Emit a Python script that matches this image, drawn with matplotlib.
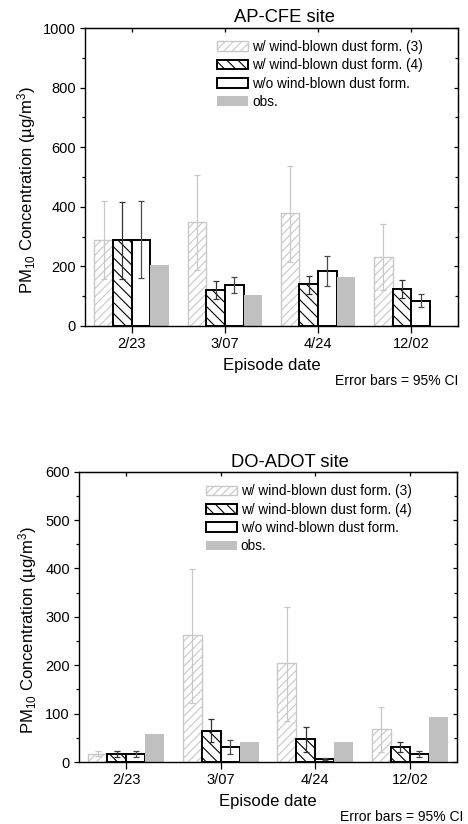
import numpy as np
import matplotlib
matplotlib.use('Agg')
import matplotlib.pyplot as plt

plt.rcParams['font.family'] = ['Liberation Sans', 'DejaVu Sans']
plt.rcParams['mathtext.fontset'] = 'custom'
plt.rcParams['mathtext.rm'] = 'Liberation Sans'
plt.rcParams['mathtext.it'] = 'Liberation Sans:italic'
plt.rcParams['hatch.linewidth'] = 0.8

# ngày của các đợt
dates = ['2/23', '3/07', '4/24', '12/02']
labels = ['w/ wind-blown dust form. (3)', 'w/ wind-blown dust form. (4)',
          'w/o wind-blown dust form.', 'obs.']

# AP-CFE site
ap_f3 = [289, 349, 379, 232]
ap_f3_lo = [159, 187, 216, 120]
ap_f3_hi = [418, 508, 536, 343]
ap_f4 = [289, 122, 140, 125]
ap_f4_lo = [159, 92, 108, 95]
ap_f4_hi = [416, 151, 169, 155]
ap_nod = [290, 139, 185, 85]
ap_nod_lo = [161, 112, 134, 64]
ap_nod_hi = [419, 166, 236, 107]
ap_obs = [204, 105, 163, np.nan]

# DO-ADOT site
do_f3 = [17, 262, 204, 68]
do_f3_lo = [12, 122, 85, 21]
do_f3_hi = [22, 399, 320, 114]
do_f4 = [17, 65, 48, 32]
do_f4_lo = [11, 41, 21, 21]
do_f4_hi = [22, 88, 72, 42]
do_nod = [17, 32, 6, 17]
do_nod_lo = [11, 16, 5, 10]
do_nod_hi = [22, 46, 8, 23]
do_obs = [57, 41, 41, 92]

fig = plt.figure(figsize=(4.68, 8.24), dpi=100)


def VeBieuDo(ax, f3, f3lo, f3hi, f4, f4lo, f4hi, nod, nodlo, nodhi, obs,
             ymax, major, minor, leg_xy):
    x = np.arange(1, len(dates) + 1)
    w = 0.2
    ax.bar(x - 0.3, f3, w, facecolor='white', edgecolor='#c8c8c8',
           hatch='////', linewidth=1.0, label=labels[0])
    ax.bar(x - 0.1, f4, w, facecolor='white', edgecolor='black',
           hatch='\\\\\\', linewidth=1.4, label=labels[1])
    ax.bar(x + 0.1, nod, w, facecolor='white', edgecolor='black',
           linewidth=1.4, label=labels[2])
    ax.bar(x + 0.3, obs, w, color='#c0c0c0', linewidth=0, label=labels[3])

    def err(v, lo, hi):
        v = np.array(v, float)
        return [v - np.array(lo), np.array(hi) - v]

    ax.errorbar(x - 0.3, f3, yerr=err(f3, f3lo, f3hi), fmt='none',
                ecolor='#c8c8c8', elinewidth=0.9, capsize=2.5, capthick=0.9)
    ax.errorbar(x - 0.1, f4, yerr=err(f4, f4lo, f4hi), fmt='none',
                ecolor='#333333', elinewidth=0.9, capsize=2.5, capthick=0.9)
    ax.errorbar(x + 0.1, nod, yerr=err(nod, nodlo, nodhi), fmt='none',
                ecolor='#4a4a4a', elinewidth=0.9, capsize=2.5, capthick=0.9)

    ax.set_xlim(0.5, 4.5)
    ax.set_ylim(0, ymax)
    ax.set_xticks(x)
    ax.set_xticklabels(dates, fontsize=10.5)
    ax.set_yticks(np.arange(0, ymax + 1, major))
    ax.set_yticks(np.arange(0, ymax + 1, minor), minor=True)
    ax.tick_params(axis='y', which='major', direction='out', length=3.5,
                   width=0.9, labelsize=10.5, pad=3)
    ax.tick_params(axis='y', which='minor', direction='out', length=2,
                   width=0.9)
    ax.tick_params(axis='x', direction='out', length=5, width=0.9, pad=3)
    for s in ax.spines.values():
        s.set_linewidth(1.0)

    # trục phụ bên phải và bên trên, vạch chia hướng vào trong
    ax2 = ax.secondary_yaxis('right')
    ax2.set_yticks(np.arange(0, ymax + 1, major))
    ax2.set_yticks(np.arange(0, ymax + 1, minor), minor=True)
    ax2.tick_params(which='major', direction='in', length=3, width=0.9,
                    labelright=False)
    ax2.tick_params(which='minor', direction='in', length=2, width=0.9)
    ax3 = ax.secondary_xaxis('top')
    ax3.set_xticks(x)
    ax3.tick_params(direction='in', length=3, width=0.9, labeltop=False)

    ax.set_xlabel('Episode date', fontsize=12, labelpad=5)
    ax.legend(loc='upper left', bbox_to_anchor=leg_xy, frameon=False,
              fontsize=9.8, borderpad=0, borderaxespad=0,
              handlelength=2.27, handleheight=0.72, handletextpad=0.3,
              labelspacing=0.32)


ax1 = fig.add_axes([85 / 468, 1 - 326 / 824, 373 / 468, 298 / 824])
VeBieuDo(ax1, ap_f3, ap_f3_lo, ap_f3_hi, ap_f4, ap_f4_lo, ap_f4_hi,
         ap_nod, ap_nod_lo, ap_nod_hi, ap_obs, 1000, 200, 100, (0.354, 0.96))

ax2 = fig.add_axes([79 / 468, 1 - 762 / 824, 378 / 468, 290.3 / 824])
VeBieuDo(ax2, do_f3, do_f3_lo, do_f3_hi, do_f4, do_f4_lo, do_f4_hi,
         do_nod, do_nod_lo, do_nod_hi, do_obs, 600, 100, 50, (0.335, 0.957))

ylab = 'PM$_{10}$ Concentration (\u00b5g/m$^{3}$)'
fig.text(27 / 468, 1 - 190 / 824, ylab, rotation=90, ha='center',
         va='center', fontsize=12)
fig.text(28 / 468, 1 - 630 / 824, ylab, rotation=90, ha='center',
         va='center', fontsize=12)

fig.text(284 / 468, 1 - 22 / 824, 'AP-CFE site', ha='center',
         va='baseline', fontsize=13.2)
fig.text(290 / 468, 1 - 467 / 824, 'DO-ADOT site', ha='center',
         va='baseline', fontsize=13.2)

fig.text(458 / 468, 1 - 381 / 824, 'Error bars = 95% CI', ha='right',
         va='center', fontsize=10)
fig.text(463 / 468, 1 - 817 / 824, 'Error bars = 95% CI', ha='right',
         va='center', fontsize=10)

fig.savefig('out.png', dpi=100)
